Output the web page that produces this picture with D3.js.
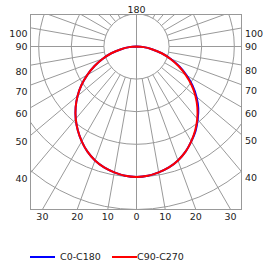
<!DOCTYPE html>
<html><head><meta charset="utf-8">
<script src="https://cdn.jsdelivr.net/npm/d3@7"></script>
<style>
html,body{margin:0;padding:0;background:#fff;}
text{font-family:"DejaVu Sans",Verdana,sans-serif;font-size:9.5px;fill:#222;}
</style></head>
<body>
<svg id="chart" width="275" height="266"></svg>
<script>
// gamma angles (degrees from nadir) for each curve point
const gammaAngles = [0,5,10,15,20,25,30,35,40,45,50,55,60,65,70,75,80,85,90];
// C0 half-plane (blue, right side)
const c0 = [200,199,196,192,186,178,168,158,146,134,120,105,89,73,56,40,24,11,0];
// C180 half-plane (blue, left side)
const c180 = [200,199,196,192,186,178,168,157,145,132,118,103,87,71,55,40,24,11,0];
// C90 half-plane (red, right side)
const c90 = [200,199,196,192,186,178,168,157,145,132,118,103,87,71,55,40,24,11,0];
// C270 half-plane (red, left side)
const c270 = [200,199,196,192,186,178,168,157,145,132,118,103,87,71,55,40,24,11,0];
// ring values of the radial grid
const ringValues = [50,100,150,200,250];
// radial grid line angles (degrees from nadir)
const spokeAngles = d3.range(10, 360, 10).filter(a => a !== 180);
// side labels (gamma angles)
const sideLabels = [100,90,80,70,60,50,40];
// bottom labels (gamma angles)
const bottomLabels = [30,20,10,0,10,20,30];
const bottomSides = [-1,-1,-1,0,1,1,1];
const topLabel = "180";
const seriesNames = ["C0-C180","C90-C270"];
const seriesColors = ["#0000ff","#ff0000"];

const svg = d3.select("#chart");
const cx = 136.5, cy = 46.5;
const box = {left:30.5, right:241.5, top:14.5, bottom:209.5};
const r = d3.scaleLinear().domain([0,250]).range([0,163]);
const grid = "#999999";
const rad = d => d*Math.PI/180;

svg.append("clipPath").attr("id","clip").append("rect")
  .attr("x",box.left).attr("y",box.top)
  .attr("width",box.right-box.left).attr("height",box.bottom-box.top);

const g = svg.append("g").attr("clip-path","url(#clip)");
const c = g.append("g").attr("transform",`translate(${cx},${cy})`);

// rings
c.selectAll("circle.ring").data(ringValues).join("circle")
  .attr("r", d => r(d)).attr("fill","none").attr("stroke",grid).attr("stroke-width",1);

// spokes (from first ring outward)
c.selectAll("line.spoke").data(spokeAngles).join("line")
  .attr("x1", a => r(ringValues[0])*Math.sin(rad(a)))
  .attr("y1", a => r(ringValues[0])*Math.cos(rad(a)))
  .attr("x2", a => 400*Math.sin(rad(a)))
  .attr("y2", a => 400*Math.cos(rad(a)))
  .attr("stroke",grid).attr("stroke-width",1);
// vertical axis through center
c.append("line").attr("x1",0).attr("x2",0).attr("y1",-400).attr("y2",400)
  .attr("stroke",grid).attr("stroke-width",1);

// frame
svg.append("rect").attr("x",box.left).attr("y",box.top)
  .attr("width",box.right-box.left).attr("height",box.bottom-box.top)
  .attr("fill","none").attr("stroke",grid).attr("stroke-width",1);

// curves
function curveData(leftVals, rightVals){
  const left = gammaAngles.map((gm,i)=>({a:Math.PI+rad(gm), v:leftVals[i]})).reverse();
  const right = gammaAngles.map((gm,i)=>({a:Math.PI-rad(gm), v:rightVals[i]})).slice(1);
  return left.concat(right);
}
const line = d3.lineRadial().angle(d=>d.a).radius(d=>r(d.v)).curve(d3.curveCatmullRom);
[[c180,c0],[c270,c90]].forEach((pair,i)=>{
  svg.append("path").attr("transform",`translate(${cx},${cy})`)
    .attr("d", line(curveData(pair[0],pair[1])))
    .attr("fill","none").attr("stroke",seriesColors[i]).attr("stroke-width",2);
});

// side labels
const dxL = cx - box.left, dxR = box.right - cx;
function sideY(gm, dx){
  if (gm === 90) return cy;
  return cy + dx/Math.tan(rad(gm)) + 6;
}
svg.selectAll("text.left").data(sideLabels).join("text")
  .attr("x", box.left-3).attr("y", d=>sideY(d,dxL)).attr("dy","0.36em")
  .attr("text-anchor","end").text(d=>d);
svg.selectAll("text.right").data(sideLabels).join("text")
  .attr("x", box.right+3.5).attr("y", d=>sideY(d,dxR)).attr("dy","0.36em")
  .attr("text-anchor","start").text(d=>d);
// bottom labels
const dy = box.bottom - cy;
svg.selectAll("text.bottom").data(bottomLabels).join("text")
  .attr("x",(d,i)=>cx + bottomSides[i]*dy*Math.tan(rad(d)))
  .attr("y", box.bottom+7.5).attr("dy","0.36em")
  .attr("text-anchor","middle").text(d=>d);
// top label
svg.append("text").attr("x",cx).attr("y",9.5).attr("dy","0.36em")
  .attr("text-anchor","middle").text(topLabel);

// legend
const legX = [30, 112];
seriesNames.forEach((name,i)=>{
  svg.append("line").attr("x1",legX[i]).attr("x2",legX[i]+25)
    .attr("y1",257).attr("y2",257).attr("stroke",seriesColors[i]).attr("stroke-width",2);
  svg.append("text").attr("x", i===0 ? legX[i]+30 : legX[i]+25).attr("y",257).attr("dy","0.36em")
    .text(name);
});
</script>
</body></html>
